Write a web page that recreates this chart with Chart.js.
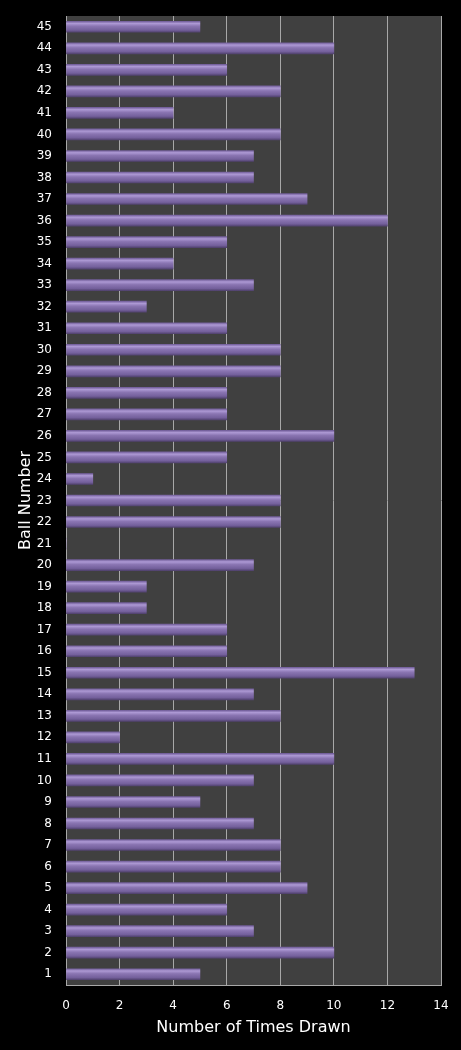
<!DOCTYPE html>
<html>
<head>
<meta charset="utf-8">
<script src="https://cdn.jsdelivr.net/npm/chart.js@4"></script>
<style>
  html, body { margin: 0; padding: 0; background: #000; }
  #wrap { width: 461px; height: 1050px; }
</style>
</head>
<body>
<div id="wrap"><canvas id="balls-chart" width="461" height="1050"></canvas></div>
<script>
// Ball numbers, bottom to top
const ballNumbers = []
for (let n = 1; n <= 45; n++) ballNumbers.push(String(n))

// Times drawn for balls 1..45
const timesDrawn = [
    5, 10, 7, 6, 9, 8, 8, 7, 5, 7,
    10, 2, 8, 7, 13, 6, 6, 3, 3, 7,
    0, 8, 8, 1, 6, 10, 6, 6, 8, 8,
    6, 3, 7, 4, 6, 12, 9, 7, 7, 8,
    4, 8, 6, 10, 5
]

const xTicks = [0, 2, 4, 6, 8, 10, 12, 14]

// Fill the plot area grey before the grid is drawn
const plotBackground = {
    id: "plotBackground",
    beforeDraw: (chart) => {
        const { ctx, chartArea } = chart
        ctx.save()
        ctx.fillStyle = "#404040"
        ctx.fillRect(chartArea.left, chartArea.top, chartArea.width, chartArea.height)
        ctx.restore()
    }
}

// Bevelled look: lighter top edge, darker bottom edge
const barGradient = (context) => {
    const chart = context.chart
    const yScale = chart.scales.y
    if (!yScale || context.dataIndex === undefined) return "#7a65a3"
    const mid = yScale.getPixelForValue(context.dataIndex)
    if (!isFinite(mid)) return "#7a65a3"
    const g = chart.ctx.createLinearGradient(0, mid - 5.5, 0, mid + 5.5)
    g.addColorStop(0, "#725e9a")
    g.addColorStop(0.2, "#ad99d4")
    g.addColorStop(0.45, "#8a75b2")
    g.addColorStop(0.8, "#74609c")
    g.addColorStop(1, "#524370")
    return g
}

const ballsCtx = document.getElementById("balls-chart")

new Chart(ballsCtx, {
    type: "bar",
    data: {
        labels: ballNumbers,
        datasets: [{
            label: "Times Drawn",
            data: timesDrawn,
            backgroundColor: barGradient,
            borderWidth: 0,
            barThickness: 11
        }]
    },
    options: {
        indexAxis: "y",
        responsive: false,
        animation: false,
        layout: { padding: { top: 16, right: 20, left: 16, bottom: 13 } },
        plugins: {
            legend: { display: false },
            tooltip: { enabled: false }
        },
        scales: {
            x: {
                min: 0,
                max: 14,
                afterBuildTicks: (axis) => { axis.ticks = xTicks.map((v) => ({ value: v })) },
                grid: { color: "#a8a8a8", lineWidth: 1, drawTicks: true, tickLength: 12, tickColor: "rgba(0,0,0,0)" },
                border: { color: "#a8a8a8" },
                ticks: { color: "#ffffff", padding: 2, font: { family: "DejaVu Sans", size: 12 } },
                title: {
                    display: true,
                    text: "Number of Times Drawn",
                    color: "#ffffff",
                    font: { family: "DejaVu Sans", size: 16 },
                    padding: { top: 4, bottom: 0 }
                },
                afterFit: (axis) => { axis.height = 52 }
            },
            y: {
                reverse: true,
                grid: { display: false, drawTicks: true, tickLength: 12, tickColor: "rgba(0,0,0,0)" },
                border: { color: "#a8a8a8" },
                ticks: { color: "#ffffff", padding: 2, autoSkip: false, font: { family: "DejaVu Sans", size: 12 } },
                title: {
                    display: true,
                    text: "Ball Number",
                    color: "#ffffff",
                    font: { family: "DejaVu Sans", size: 16 },
                    padding: { top: 0, bottom: 4 }
                },
                afterFit: (axis) => { axis.width = 50 }
            }
        }
    },
    plugins: [plotBackground]
})
</script>
</body>
</html>
